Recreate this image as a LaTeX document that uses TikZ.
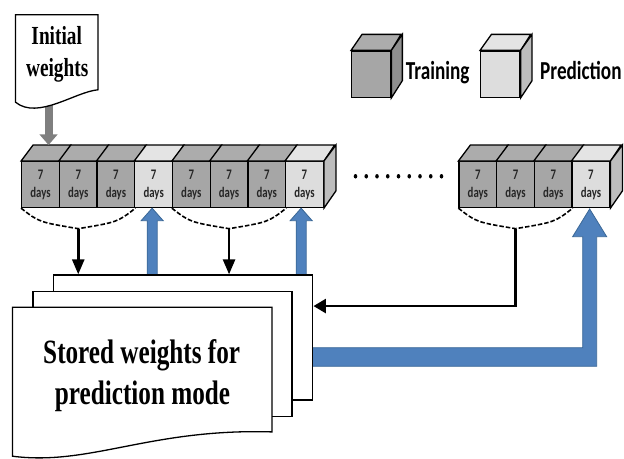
\documentclass[tikz,border=0pt]{standalone}
\usepackage{fontspec}
\setmainfont{Liberation Serif}
\newfontfamily\calib{Carlito}
\usetikzlibrary{arrows.meta,calc}

\definecolor{trainF}{HTML}{A6A6A6}
\definecolor{trainT}{HTML}{ACACAC}
\definecolor{trainS}{HTML}{8F8F8F}
\definecolor{predF}{HTML}{DDDDDD}
\definecolor{predT}{HTML}{E4E4E4}
\definecolor{predS}{HTML}{BDBDBD}
\definecolor{blueA}{HTML}{4F81BD}
\definecolor{blueB}{HTML}{3A6796}
\definecolor{grayA}{HTML}{7F7F7F}

% text is set slightly taller than wide
\newcommand{\vs}[1]{\scalebox{1}[1.35]{#1}}
\newcommand{\sevendays}{\vs{\begin{tabular}{@{}c@{}}7\\days\end{tabular}}}

\begin{document}
\begin{tikzpicture}[x=1pt,y=-1pt,
  outline/.style={draw=black, line width=1.3pt, line join=miter},
  face/.style={outline, inner sep=0pt, minimum width=37.7pt, minimum height=45.8pt,
    font=\calib\bfseries\fontsize{10.8}{13.5}\selectfont, text=black!85},
  train/.style={face, fill=trainF},
  pred/.style={face, fill=predF},
  legtrain/.style={train, minimum width=39pt, minimum height=46.3pt},
  legpred/.style={pred, minimum width=39.3pt, minimum height=46.3pt},
  legtext/.style={font=\calib\bfseries\fontsize{19.2}{22}\selectfont, inner sep=0pt},
  papertext/.style={font=\bfseries\fontsize{19.3}{23}\selectfont, inner sep=0pt},
  bigtext/.style={font=\bfseries\fontsize{25.2}{30}\selectfont, inner sep=0pt},
  sheet/.style={outline, fill=white, inner sep=0pt, minimum width=259pt, minimum height=125pt},
  brace/.style={draw=black, line width=1.6pt, dash pattern=on 4.5pt off 2pt},
  blkv/.style={draw=black, line width=2.6pt, -{Triangle[width=12pt,length=15pt]}},
  blkh/.style={draw=black, line width=2.6pt, line join=miter, -{Triangle[width=14pt,length=12.5pt]}},
  grayarr/.style={draw=grayA, line width=8pt, -{Triangle[width=17.6pt,length=10.7pt]}},
  bluearr/.style={fill=blueA, draw=blueB, line width=0.8pt, line join=miter}
]
\useasboundingbox (0,0) rectangle (624,458);

% ---- legend ----
\node[legtrain] (lt) at (371.2,74.15) {};
\draw[outline, fill=trainT] (lt.north west) -- ++(11,-16) -- ++(39,0) -- (lt.north east) -- cycle;
\draw[outline, fill=trainS] (lt.north east) -- ++(11,-16) -- ++(0,46.3) -- (lt.south east) -- cycle;
\node[legtext, anchor=base west] (ltx) at (405.7,79.3) {\vs{Training}};
\node[legpred] (lp) at (500.35,74.15) {};
\draw[outline, fill=predT] (lp.north west) -- ++(11.4,-16) -- ++(39.3,0) -- (lp.north east) -- cycle;
\draw[outline, fill=predS] (lp.north east) -- ++(11.4,-16) -- ++(0,46.3) -- (lp.south east) -- cycle;
\node[legtext, anchor=base west] (lpx) at (540,79.3) {\vs{Prediction}};

% ---- first block of eight days-windows ----
\foreach \i/\k/\t in {1/train/trainT,2/train/trainT,3/train/trainT,4/pred/predT,
                      5/train/trainT,6/train/trainT,7/train/trainT,8/pred/predT}{
  \node[\k] (c\i) at ({21.7+37.7*(\i-1)+18.85},184.6) {\sevendays};
  \draw[outline, fill=\t] (c\i.north west) -- ++(12,-16) -- ++(37.7,0) -- (c\i.north east) -- cycle;
}
\draw[outline, fill=predS] (c8.north east) -- ++(12,-16) -- ++(0,45.8) -- (c8.south east) -- cycle;

% ---- last block of four ----
\foreach \i/\k/\t in {9/train/trainT,10/train/trainT,11/train/trainT,12/pred/predT}{
  \node[\k] (c\i) at ({459+37.7*(\i-9)+18.85},184.6) {\sevendays};
  \draw[outline, fill=\t] (c\i.north west) -- ++(12,-16) -- ++(37.7,0) -- (c\i.north east) -- cycle;
}
\draw[outline, fill=predS] (c12.north east) -- ++(12,-16) -- ++(0,45.8) -- (c12.south east) -- cycle;

% ellipsis between blocks
\foreach \j in {0,...,8}
  \fill[black] ({355.5+10.75*\j},176.3) ellipse (1.8 and 2.2);

% ---- stacked weight sheets (positions) ----
\node[sheet] (doc3) at (183.3,337.5) {};
\coordinate (e3) at ($(doc3.north east)+(0,31.7)$);

% ---- brackets grouping the training windows ----
\foreach \a/\b/\m in {c1/c3/m1, c5/c7/m2, c9/c11/m3}{
  \coordinate (\m) at ($(\a.south west)!0.5!(\b.south east)+(0,20.5)$);
  \draw[brace] (\a.south west) .. controls ($(\a.south west)+(18,14)$) .. (\m)
               .. controls ($(\b.south east)+(-18,14)$) .. (\b.south east);
}

% training results go into the stored weights
\draw[blkv] (m1) -- (m1 |- doc3.north);
\draw[blkv] (m2) -- (m2 |- doc3.north);
\draw[blkh] (m3) |- (e3);

% stored weights feed the prediction windows
\coordinate (t4) at ($(c4.south)+(-1.5,0)$);
\coordinate (t8) at ($(c8.south)+(-3.3,0)$);
\foreach \t in {t4,t8}{
  \filldraw[bluearr] (\t) -- ++(11,12.5) -- ++(-6,0) -- ($(\t |- doc3.north)+(5,1)$)
    -- ++(-10,0) -- ($(\t)+(-5,12.5)$) -- ++(-6,0) -- cycle;
}
\coordinate (t12) at ($(c12.south)+(-1.3,0.8)$);
\coordinate (s12) at ($(doc3.east)+(-1,19.5)$);
\filldraw[bluearr] (t12) -- ++(17,27.7) -- ++(-10,0) |- ($(s12)+(0,9.3)$)
  -- ($(s12)+(0,-9.3)$) -| ($(t12)+(-7,27.7)$) -- ++(-10,0) -- cycle;

% ---- sheets drawn on top ----
\node[sheet] (doc3b) at (doc3) {};
\node[sheet] (doc2) at (162.5,353.85) {};
\node[inner sep=0pt, minimum width=259pt, minimum height=124.3pt] (doc1) at (142.2,369.55) {};
\draw[outline, fill=white] (doc1.north west) -- (doc1.north east) -- (doc1.south east)
  .. controls +(-121.7,-3.7) and +(77.3,10) .. ($(doc1.south west)+(0,24.3)$) -- cycle;
\node[bigtext, anchor=base] (s1) at (141.7,363.3) {\vs{Stored weights for}};
\node[bigtext, anchor=base] (s2) at (142.5,404) {\vs{prediction mode}};

% ---- initial weights ----
\node[inner sep=0pt, minimum width=82pt, minimum height=87pt] (iw) at (56.7,58.5) {};
\coordinate (g1) at ($(c1.north west)+(27.5,-16)$);
\draw[grayarr] (g1 |- iw.south) -- (g1);
\draw[outline, fill=white] (iw.north west) -- (iw.north east) -- ($(iw.north east)+(0,75)$)
  .. controls +(-22.7,2) and +(22.3,18) .. (iw.south west) -- cycle;
\node[papertext, anchor=base] (iw1) at (56.7,44.3) {\vs{Initial}};
\node[papertext, anchor=base] (iw2) at (57.2,76) {\vs{weights}};
\end{tikzpicture}
\end{document}
